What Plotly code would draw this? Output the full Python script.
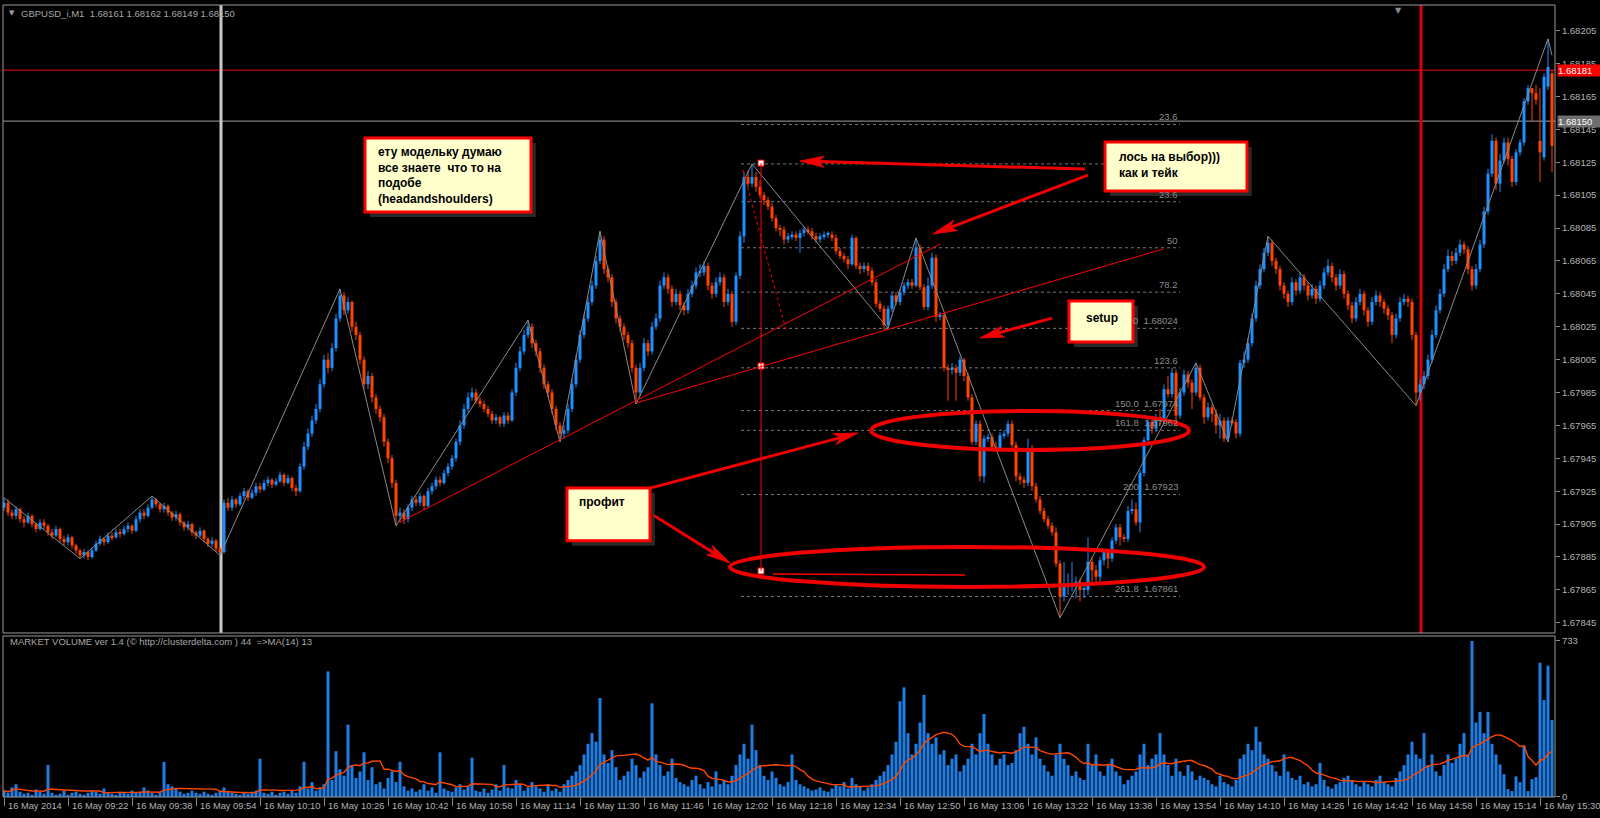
import math
import plotly.graph_objects as go
import pandas as pd

# ---------------- data (prices in points: price = 1.67 + p * 1e-5) ----------------
C_PTS = [918, 912, 910, 914, 908, 906, 910, 905, 902, 906,
 904, 900, 898, 902, 896, 894, 897, 892, 889, 886,
 888, 885, 889, 893, 896, 894, 898, 897, 900, 899,
 902, 904, 901, 908, 912, 910, 915, 920, 917, 914,
 916, 912, 909, 911, 906, 903, 905, 900, 898, 901,
 896, 893, 895, 890, 888, 918, 915, 920, 917, 922,
 925, 921, 924, 928, 926, 930, 932, 929, 931, 935,
 930, 933, 927, 925, 940, 952, 960, 968, 975, 990,
 1005, 1000, 1012, 1030, 1044, 1035, 1040, 1025, 1020, 1005,
 990, 995, 982, 975, 970, 955, 945, 930, 910, 912,
 908, 915, 920, 918, 922, 916, 925, 928, 932, 930,
 936, 940, 945, 955, 965, 975, 982, 985, 980, 978,
 975, 972, 968, 970, 966, 971, 968, 985, 1000, 1010,
 1020, 1025, 1015, 1010, 1000, 990, 985, 975, 965, 960,
 962, 975, 990, 1005, 1020, 1030, 1040, 1050, 1065, 1078,
 1060, 1055, 1040, 1030, 1025, 1020, 1015, 1000, 985, 1000,
 1015, 1010, 1025, 1030, 1050, 1055, 1048, 1040, 1045, 1038,
 1035, 1045, 1050, 1058, 1058, 1062, 1050, 1045, 1052, 1055,
 1040, 1045, 1028, 1056, 1080, 1116, 1112, 1116, 1110, 1105,
 1102, 1098, 1091, 1085, 1084, 1078, 1080, 1081, 1079, 1082,
 1084, 1083, 1080, 1078, 1080, 1081, 1081, 1079, 1071, 1068,
 1066, 1063, 1079, 1062, 1060, 1062, 1059, 1052, 1039, 1036,
 1026, 1036, 1044, 1040, 1046, 1050, 1052, 1050, 1073, 1049,
 1037, 1050, 1067, 1031, 1032, 1000, 999, 1000, 997, 1005,
 995, 982, 955, 966, 934, 957, 958, 952, 951, 959,
 960, 966, 953, 934, 932, 930, 951, 928, 920, 913,
 908, 904, 900, 881, 861, 867, 867, 867, 870, 865,
 865, 882, 877, 873, 883, 888, 884, 895, 903, 897,
 896, 913, 914, 906, 936, 956, 967, 963, 970, 968,
 987, 984, 997, 971, 985, 996, 991, 985, 1000, 982,
 970, 976, 972, 965, 968, 957, 968, 967, 960, 1003,
 1005, 1015, 1030, 1050, 1060, 1070, 1076, 1065, 1060, 1050,
 1045, 1040, 1052, 1047, 1055, 1050, 1044, 1048, 1042, 1050,
 1058, 1062, 1055, 1050, 1057, 1045, 1038, 1030, 1040, 1045,
 1035, 1028, 1040, 1044, 1040, 1036, 1032, 1020, 1030, 1040,
 1042, 1040, 1020, 985, 990, 995, 1005, 1020, 1035, 1045,
 1060, 1068, 1065, 1070, 1075, 1072, 1060, 1050, 1060, 1075,
 1095, 1118, 1138, 1112, 1126, 1137, 1127, 1113, 1131, 1137,
 1162, 1170, 1167, 1163, 1131, 1177, 1183, 1135]

O_PTS = [915, 918, 912, 910, 914, 908, 906, 910, 905, 902,
 906, 904, 900, 898, 902, 896, 894, 897, 892, 889,
 886, 888, 885, 889, 893, 896, 894, 898, 897, 900,
 899, 902, 904, 901, 908, 912, 910, 915, 920, 917,
 914, 916, 912, 909, 911, 906, 903, 905, 900, 898,
 901, 896, 893, 895, 890, 888, 918, 915, 920, 917,
 922, 925, 921, 924, 928, 926, 930, 932, 929, 931,
 935, 930, 933, 927, 925, 940, 952, 960, 968, 975,
 990, 1005, 1000, 1012, 1030, 1044, 1035, 1040, 1025, 1020,
 1005, 990, 995, 982, 975, 970, 955, 945, 930, 910,
 912, 908, 915, 920, 918, 922, 916, 925, 928, 932,
 930, 936, 940, 945, 955, 965, 975, 982, 985, 980,
 978, 975, 972, 968, 970, 966, 971, 968, 985, 1000,
 1010, 1020, 1025, 1015, 1010, 1000, 990, 985, 975, 965,
 960, 962, 975, 990, 1005, 1020, 1030, 1040, 1050, 1065,
 1078, 1060, 1055, 1040, 1030, 1025, 1020, 1015, 1000, 985,
 1000, 1015, 1010, 1025, 1030, 1050, 1055, 1048, 1040, 1045,
 1038, 1035, 1045, 1050, 1058, 1058, 1062, 1050, 1045, 1052,
 1055, 1040, 1045, 1028, 1056, 1080, 1116, 1112, 1116, 1110,
 1105, 1102, 1098, 1091, 1085, 1084, 1078, 1080, 1081, 1079,
 1082, 1084, 1083, 1080, 1078, 1080, 1081, 1081, 1079, 1071,
 1068, 1066, 1063, 1079, 1062, 1060, 1062, 1059, 1052, 1039,
 1036, 1026, 1036, 1044, 1040, 1046, 1050, 1052, 1050, 1073,
 1049, 1037, 1050, 1067, 1031, 1032, 1000, 999, 1000, 997,
 1005, 995, 982, 955, 966, 934, 957, 958, 952, 951,
 959, 960, 966, 953, 934, 932, 930, 951, 928, 920,
 913, 908, 904, 900, 881, 861, 867, 867, 867, 870,
 865, 865, 882, 877, 873, 883, 888, 884, 895, 903,
 897, 896, 913, 914, 906, 936, 956, 967, 963, 970,
 968, 987, 984, 997, 971, 985, 996, 991, 985, 1000,
 982, 970, 976, 972, 965, 968, 957, 968, 967, 960,
 1003, 1005, 1015, 1030, 1050, 1060, 1070, 1076, 1065, 1060,
 1050, 1045, 1040, 1052, 1047, 1055, 1050, 1044, 1048, 1042,
 1050, 1058, 1062, 1055, 1050, 1057, 1045, 1038, 1030, 1040,
 1045, 1035, 1028, 1040, 1044, 1040, 1036, 1032, 1020, 1030,
 1040, 1042, 1040, 1020, 985, 990, 995, 1005, 1020, 1035,
 1045, 1060, 1068, 1065, 1070, 1075, 1072, 1060, 1050, 1060,
 1075, 1095, 1118, 1138, 1112, 1126, 1137, 1127, 1113, 1131,
 1137, 1162, 1170, 1167, 1138, 1128, 1171, 1179]

H_PTS = [921, 920, 914, 916, 915, 910, 912, 911, 906, 908,
 908, 905, 902, 904, 903, 898, 899, 898, 893, 890,
 890, 889, 891, 895, 898, 897, 900, 900, 902, 902,
 904, 906, 905, 910, 914, 914, 917, 922, 921, 918,
 918, 917, 913, 913, 912, 907, 907, 906, 901, 903,
 902, 897, 897, 896, 891, 920, 921, 922, 921, 924,
 927, 926, 926, 930, 930, 932, 934, 933, 933, 937,
 936, 935, 934, 929, 942, 955, 963, 971, 978, 993,
 1008, 1009, 1015, 1033, 1048, 1046, 1043, 1041, 1028, 1022,
 1007, 998, 997, 984, 977, 972, 957, 947, 932, 915,
 914, 917, 922, 922, 924, 923, 927, 930, 934, 934,
 938, 942, 947, 957, 968, 978, 985, 988, 987, 982,
 980, 977, 974, 972, 971, 973, 973, 987, 1003, 1013,
 1023, 1029, 1027, 1017, 1012, 1002, 992, 987, 977, 967,
 965, 978, 993, 1008, 1023, 1033, 1043, 1053, 1068, 1083,
 1080, 1062, 1057, 1042, 1032, 1027, 1022, 1017, 1002, 1003,
 1018, 1017, 1028, 1033, 1053, 1058, 1057, 1050, 1048, 1047,
 1040, 1048, 1053, 1061, 1063, 1065, 1064, 1052, 1055, 1058,
 1057, 1048, 1047, 1058, 1083, 1119, 1120, 1124, 1119, 1114,
 1107, 1104, 1100, 1093, 1087, 1086, 1082, 1083, 1083, 1084,
 1086, 1086, 1085, 1082, 1082, 1083, 1083, 1083, 1081, 1073,
 1070, 1068, 1081, 1080, 1064, 1064, 1064, 1061, 1054, 1041,
 1038, 1038, 1046, 1046, 1048, 1052, 1054, 1054, 1079, 1075,
 1051, 1055, 1070, 1069, 1034, 1033, 1002, 1003, 1002, 1007,
 1006, 997, 984, 968, 968, 959, 960, 960, 955, 961,
 962, 968, 968, 955, 936, 934, 957, 953, 930, 922,
 915, 910, 906, 903, 883, 882, 875, 882, 873, 872,
 868, 897, 885, 880, 885, 890, 890, 897, 905, 905,
 899, 916, 920, 918, 938, 958, 970, 969, 972, 975,
 990, 995, 1000, 999, 988, 999, 998, 993, 1003, 1002,
 984, 979, 978, 975, 972, 970, 970, 970, 969, 1005,
 1010, 1018, 1033, 1053, 1063, 1073, 1080, 1078, 1067, 1062,
 1052, 1047, 1055, 1054, 1058, 1057, 1052, 1051, 1050, 1053,
 1061, 1066, 1064, 1057, 1060, 1059, 1047, 1040, 1043, 1048,
 1047, 1037, 1043, 1047, 1046, 1042, 1038, 1034, 1033, 1043,
 1045, 1044, 1042, 1022, 993, 998, 1008, 1023, 1038, 1048,
 1063, 1072, 1071, 1073, 1078, 1077, 1074, 1062, 1063, 1078,
 1098, 1121, 1142, 1140, 1130, 1140, 1140, 1129, 1133, 1139,
 1164, 1172, 1170, 1172, 1170, 1179, 1200, 1181]

L_PTS = [913, 910, 908, 908, 906, 903, 905, 903, 900, 901,
 902, 898, 896, 897, 894, 892, 892, 890, 887, 884,
 884, 883, 884, 888, 892, 892, 893, 895, 896, 897,
 898, 900, 899, 900, 906, 908, 909, 914, 915, 912,
 912, 910, 907, 907, 904, 901, 901, 898, 896, 897,
 894, 891, 891, 888, 886, 887, 913, 913, 915, 916,
 920, 919, 920, 922, 924, 925, 928, 927, 928, 930,
 928, 929, 925, 922, 924, 938, 950, 958, 966, 973,
 988, 997, 998, 1010, 1028, 1032, 1033, 1022, 1017, 1002,
 987, 987, 979, 972, 967, 952, 942, 927, 904, 906,
 905, 906, 913, 916, 916, 914, 915, 923, 926, 928,
 929, 934, 938, 943, 953, 963, 973, 980, 978, 976,
 973, 970, 966, 966, 964, 964, 966, 967, 983, 998,
 1008, 1018, 1012, 1007, 997, 987, 982, 972, 962, 955,
 957, 960, 973, 988, 1003, 1018, 1028, 1038, 1048, 1063,
 1057, 1052, 1037, 1027, 1022, 1017, 1012, 997, 978, 983,
 998, 1007, 1008, 1023, 1028, 1048, 1045, 1037, 1038, 1035,
 1032, 1033, 1043, 1048, 1055, 1056, 1047, 1042, 1043, 1050,
 1037, 1038, 1025, 1026, 1054, 1076, 1110, 1110, 1107, 1103,
 1099, 1096, 1089, 1083, 1080, 1075, 1076, 1078, 1077, 1070,
 1080, 1081, 1078, 1076, 1076, 1078, 1079, 1077, 1069, 1066,
 1064, 1060, 1062, 1060, 1057, 1058, 1056, 1050, 1037, 1034,
 1023, 1024, 1034, 1038, 1038, 1044, 1048, 1048, 1049, 1047,
 1035, 1035, 1048, 1028, 1029, 998, 980, 996, 980, 995,
 992, 980, 953, 953, 931, 930, 955, 950, 949, 949,
 957, 958, 951, 931, 929, 927, 928, 925, 918, 911,
 906, 902, 898, 879, 848, 858, 862, 864, 860, 858,
 860, 862, 870, 870, 870, 880, 878, 882, 893, 892,
 894, 894, 911, 904, 900, 934, 954, 960, 961, 965,
 966, 982, 982, 968, 969, 983, 988, 975, 983, 980,
 966, 968, 967, 960, 957, 955, 955, 965, 957, 958,
 1000, 1003, 1013, 1028, 1048, 1058, 1068, 1062, 1057, 1047,
 1042, 1037, 1038, 1044, 1045, 1047, 1041, 1042, 1039, 1040,
 1048, 1056, 1052, 1047, 1048, 1042, 1035, 1027, 1028, 1038,
 1032, 1025, 1026, 1038, 1037, 1033, 1029, 1015, 1018, 1028,
 1038, 1037, 1017, 977, 980, 987, 993, 1003, 1018, 1033,
 1043, 1058, 1062, 1063, 1068, 1069, 1057, 1047, 1048, 1058,
 1073, 1093, 1116, 1108, 1107, 1124, 1123, 1110, 1111, 1129,
 1135, 1160, 1150, 1160, 1113, 1126, 1169, 1119]

VOLUME = [30, 20, 45, 60, 25, 15, 20, 10, 35, 25,
 15, 150, 20, 10, 15, 30, 10, 20, 25, 15,
 10, 20, 30, 25, 15, 40, 20, 15, 10, 25,
 20, 15, 30, 20, 25, 45, 30, 20, 10, 25,
 165, 60, 50, 40, 25, 15, 20, 30, 20, 15,
 25, 15, 10, 20, 30, 45, 25, 20, 15, 10,
 20, 15, 25, 30, 180, 20, 15, 25, 10, 20,
 25, 15, 30, 20, 50, 165, 40, 70, 30, 45,
 60, 590, 80, 215, 130, 100, 340, 150, 90, 120,
 210, 80, 140, 60, 70, 40, 90, 120, 70, 165,
 50, 30, 40, 25, 35, 60, 30, 45, 20, 210,
 40, 30, 25, 45, 60, 35, 50, 185, 30, 25,
 40, 20, 35, 60, 30, 150, 45, 40, 80, 60,
 30, 45, 70, 50, 40, 25, 60, 30, 40, 25,
 60, 80, 100, 120, 150, 200, 250, 300, 260, 465,
 200, 160, 220, 140, 80, 100, 120, 180, 150, 90,
 120, 140, 440, 200, 150, 100, 120, 180, 90, 70,
 60, 50, 80, 100, 60, 40, 70, 50, 120, 60,
 80, 60, 100, 150, 200, 250, 180, 340, 220, 150,
 100, 80, 120, 90, 60, 50, 70, 200, 80, 60,
 50, 40, 30, 35, 45, 30, 25, 40, 60, 50,
 70, 40, 90, 60, 50, 30, 45, 60, 80, 100,
 120, 150, 200, 260, 450, 515, 300, 200, 250, 350,
 480, 300, 250, 280, 200, 220, 150, 180, 200, 120,
 150, 180, 250, 200, 300, 390, 250, 200, 150, 180,
 200, 150, 160, 220, 300, 330, 250, 200, 280, 180,
 150, 120, 100, 200, 250, 180, 150, 100, 120, 90,
 80, 250, 150, 200, 120, 100, 150, 180, 120, 100,
 60, 80, 100, 120, 200, 250, 150, 180, 200, 300,
 200, 150, 100, 180, 120, 100, 150, 120, 80, 100,
 90, 80, 60, 50, 100, 70, 60, 50, 80, 180,
 200, 250, 220, 330, 260, 200, 180, 150, 120, 100,
 200, 120, 90, 80, 100, 60, 70, 50, 60, 160,
 80, 50, 40, 60, 70, 90, 100, 80, 60, 50,
 70, 60, 50, 80, 100, 70, 60, 50, 90, 120,
 150, 200, 260, 200, 180, 300, 150, 200, 120, 100,
 150, 200, 160, 180, 250, 300, 200, 733, 350, 400,
 300, 400, 250, 200, 153, 107, 37, 28, 97, 70,
 241, 28, 84, 93, 631, 455, 617, 362]

# ZigZag indicator vertices (bar index, points)
ZZ_I = [0, 19, 37, 54, 84, 98, 131, 139, 149, 158, 187, 221, 228, 264, 298, 306, 316, 353, 386, 387]
ZZ_P = [921, 884, 922, 886, 1048, 904, 1029, 955, 1083, 978, 1124, 1024, 1079, 848, 1003, 955, 1080, 977, 1200, 1190]

TIME_TICK_IDX = [0, 16, 32, 48, 64, 80, 96, 112, 128, 144, 160, 176, 192, 208, 224, 240,
                 256, 272, 288, 304, 320, 336, 352, 368, 384]
TIME_LABELS = ["16 May 2014", "16 May 09:22", "16 May 09:38", "16 May 09:54", "16 May 10:10",
               "16 May 10:26", "16 May 10:42", "16 May 10:58", "16 May 11:14", "16 May 11:30",
               "16 May 11:46", "16 May 12:02", "16 May 12:18", "16 May 12:34", "16 May 12:50",
               "16 May 13:06", "16 May 13:22", "16 May 13:38", "16 May 13:54", "16 May 14:10",
               "16 May 14:26", "16 May 14:42", "16 May 14:58", "16 May 15:14", "16 May 15:30"]
PRICE_TICKS = [1.67845, 1.67865, 1.67885, 1.67905, 1.67925, 1.67945, 1.67965, 1.67985, 1.68005,
               1.68025, 1.68045, 1.68065, 1.68085, 1.68105, 1.68125, 1.68145, 1.68165, 1.68185, 1.68205]

FIB_LEVELS = [1.68148, 1.68124, 1.68101, 1.68073, 1.68046, 1.68024, 1.68000, 1.67974, 1.67962, 1.67923, 1.67861]
FIB_LABELS = ["23.6", "", "23.6", "50", "78.2", "0  1.68024", "123.6", "150.0  1.67974",
              "161.8  1.67962", "200  1.67923", "261.8  1.67861"]

ASK_LINE = 1.68181
BID_LINE = 1.68150

# ---------------- helpers ----------------
def to_price(pts):
    return [round(1.67 + v * 1e-5, 5) for v in pts]

X = list(range(len(C_PTS)))
OPEN, HIGH, LOW, CLOSE = to_price(O_PTS), to_price(H_PTS), to_price(L_PTS), to_price(C_PTS)
MA14 = pd.Series(VOLUME, dtype=float).rolling(14, min_periods=1).mean().tolist()

FONT = "Liberation Sans, Arial, sans-serif"
TXT = "#B4B4B4"
FRAME = "#9A9A9A"
RED = "#FF0000"
UP = "#1E90FF"
DN = "#FF4500"
X0, X1 = -0.25, 387.75
Y0, Y1 = 1.678388, 1.682206
MIN_BODY = 0.0000065   # about one screen pixel, so that doji bars stay visible

# screen geometry of the price panel (used only to shape the arrow heads)
PLOT_L, PLOT_W = 3, 1552
MAIN_T, MAIN_H = 5, 628


def d2p(x, y):
    return (PLOT_L + (x - X0) / (X1 - X0) * PLOT_W,
            MAIN_T + (Y1 - y) / (Y1 - Y0) * MAIN_H)


def p2d(px, py):
    return (X0 + (px - PLOT_L) / PLOT_W * (X1 - X0),
            Y1 - (py - MAIN_T) / MAIN_H * (Y1 - Y0))


fig = go.Figure()

# candles drawn as wicks (lines) + bodies (floating bars) so the body width can be set exactly
for colour, is_up in ((UP, True), (DN, False)):
    idx = [i for i in X if (CLOSE[i] >= OPEN[i]) == is_up]
    wx, wy = [], []
    for i in idx:
        wx += [i, i, None]
        wy += [LOW[i], HIGH[i], None]
    fig.add_trace(go.Scatter(x=wx, y=wy, mode="lines", line=dict(color=colour, width=1),
                             hoverinfo="skip", showlegend=False, xaxis="x", yaxis="y"))
    fig.add_trace(go.Bar(x=idx,
                         y=[max(abs(CLOSE[i] - OPEN[i]), MIN_BODY) for i in idx],
                         base=[min(OPEN[i], CLOSE[i]) for i in idx],
                         width=0.75, marker=dict(color=colour, line=dict(width=0)),
                         hoverinfo="skip", showlegend=False, xaxis="x", yaxis="y"))

fig.add_trace(go.Scatter(x=ZZ_I, y=to_price(ZZ_P), mode="lines",
                         line=dict(color="#8A8A8A", width=1), hoverinfo="skip",
                         showlegend=False, xaxis="x", yaxis="y"))

fig.add_trace(go.Bar(x=X, y=VOLUME, width=0.75, marker=dict(color="#1E7EE6", line=dict(width=0)),
                     showlegend=False, hoverinfo="skip", xaxis="x", yaxis="y2"))
fig.add_trace(go.Scatter(x=X, y=MA14, mode="lines", line=dict(color="#FF4500", width=1.4),
                         showlegend=False, hoverinfo="skip", xaxis="x", yaxis="y2"))

# fib anchor markers
fig.add_trace(go.Scatter(x=[189.25, 189.25, 189.25], y=[1.681245, 1.680011, 1.678765], mode="markers",
                         marker=dict(symbol="square", size=6, color="white", line=dict(color=RED, width=1)),
                         showlegend=False, hoverinfo="skip", xaxis="x", yaxis="y"))

shapes = []
annotations = []

# panel frames
shapes.append(dict(type="rect", xref="paper", yref="paper", x0=0, x1=1, y0=0.2071, y1=1,
                   line=dict(color=FRAME, width=1), layer="above"))
shapes.append(dict(type="rect", xref="paper", yref="paper", x0=0, x1=1, y0=0, y1=0.2033,
                   line=dict(color=FRAME, width=1), layer="above"))

# fib dashed levels
for lv, lab in zip(FIB_LEVELS, FIB_LABELS):
    shapes.append(dict(type="line", xref="x", yref="y", x0=184.25, x1=294, y0=lv, y1=lv,
                       line=dict(color="#7A7A7A", width=1, dash="3px,3px"), layer="below"))
    if lab:
        annotations.append(dict(x=294, y=lv, xref="x", yref="y", xanchor="right", yanchor="bottom",
                                text=lab, showarrow=False, font=dict(family=FONT, size=9.5, color="#8C8C8C")))

# bid / ask lines, vertical lines
shapes.append(dict(type="line", xref="x", yref="y", x0=X0, x1=X1, y0=ASK_LINE, y1=ASK_LINE,
                   line=dict(color=RED, width=1), layer="below"))
shapes.append(dict(type="line", xref="x", yref="y", x0=X0, x1=X1, y0=BID_LINE, y1=BID_LINE,
                   line=dict(color="#A0A0A0", width=1), layer="below"))
shapes.append(dict(type="line", xref="x", yref="y", x0=54.25, x1=54.25, y0=Y0, y1=Y1,
                   line=dict(color="#C8C8C8", width=3), layer="below"))
shapes.append(dict(type="line", xref="x", yref="y", x0=354.25, x1=354.25, y0=Y0, y1=Y1,
                   line=dict(color="#E00000", width=3), layer="below"))

# trend lines & fib vertical
shapes.append(dict(type="line", xref="x", yref="y", x0=99, y0=1.679062, x1=234, y1=1.680752,
                   line=dict(color=RED, width=1)))
shapes.append(dict(type="line", xref="x", yref="y", x0=158, y0=1.679786, x1=289.75, y1=1.680722,
                   line=dict(color=RED, width=1)))
shapes.append(dict(type="line", xref="x", yref="y", x0=184.7, y0=1.681203, x1=195.5, y1=1.680230,
                   line=dict(color=RED, width=1, dash="dot")))
shapes.append(dict(type="line", xref="x", yref="y", x0=189.25, y0=1.681245, x1=189.25, y1=1.678765,
                   line=dict(color=RED, width=1)))
shapes.append(dict(type="line", xref="x", yref="y", x0=192.25, y0=1.678747, x1=240.25, y1=1.678741,
                   line=dict(color=RED, width=1.5)))

# ellipses
shapes.append(dict(type="circle", xref="x", yref="y", x0=216.75, x1=296.25, y0=1.679501, y1=1.679738,
                   line=dict(color="#F00000", width=4)))
shapes.append(dict(type="circle", xref="x", yref="y", x0=181.5, x1=300, y0=1.678668, y1=1.678911,
                   line=dict(color="#F00000", width=4)))

# arrows (head x,y ; tail x,y) drawn as a shaft plus a long narrow notched head
ARROWS = [
    (199, 1.681257, 270.25, 1.681209),
    (232.25, 1.680814, 271, 1.681172),
    (244, 1.680181, 262, 1.680302),
    (213.5, 1.679604, 161.75, 1.679270),
    (181.5, 1.678814, 162.25, 1.679105),
]
HEAD_LEN, HEAD_HALF, NOTCH = 24, 5.5, 18
for hx, hy, tx, ty in ARROWS:
    hpx, hpy = d2p(hx, hy)
    tpx, tpy = d2p(tx, ty)
    L = math.hypot(hpx - tpx, hpy - tpy)
    ux, uy = (hpx - tpx) / L, (hpy - tpy) / L
    nx, ny = -uy, ux
    bx, by = hpx - ux * HEAD_LEN, hpy - uy * HEAD_LEN
    mx, my = hpx - ux * NOTCH, hpy - uy * NOTCH
    pts = [(hpx, hpy), (bx + nx * HEAD_HALF, by + ny * HEAD_HALF), (mx, my),
           (bx - nx * HEAD_HALF, by - ny * HEAD_HALF)]
    dpts = [p2d(a, b) for a, b in pts]
    path = "M " + " L ".join(f"{a:.4f},{b:.7f}" for a, b in dpts) + " Z"
    sx, sy = p2d(mx, my)
    shapes.append(dict(type="line", xref="x", yref="y", x0=tx, y0=ty, x1=sx, y1=sy,
                       line=dict(color="#F00000", width=3)))
    shapes.append(dict(type="path", xref="x", yref="y", path=path, fillcolor="#F00000",
                       line=dict(color="#F00000", width=1)))

# text boxes (shadow + box) and their texts
BOXES = [
    (90.25, 131.75, 1.681397, 1.680947),
    (275.25, 310.75, 1.681373, 1.681075),
    (266.25, 282.25, 1.680406, 1.680157),
    (140.75, 161.5, 1.679270, 1.678948),
]
for bx0, bx1, by1, by0 in BOXES:
    shapes.append(dict(type="rect", xref="x", yref="y", x0=bx0 + 1.2, x1=bx1 + 1.2,
                       y0=by0 - 0.00003, y1=by1 - 0.00003, fillcolor="#3A3A3A", opacity=0.7,
                       line=dict(width=0)))
    shapes.append(dict(type="rect", xref="x", yref="y", x0=bx0, x1=bx1, y0=by0, y1=by1,
                       fillcolor="#FFFFCC", line=dict(color=RED, width=3)))

BOX_TEXTS = [
    (93, 1.681169, "ету модельку думаю<br>все знаете  что то на<br>подобе<br>(headandshoulders)"),
    (278.25, 1.681235, "лось на выбор)))<br>как и тейк"),
    (270, 1.680303, "setup"),
    (143.25, 1.679184, "профит"),
]
for tx, ty, t in BOX_TEXTS:
    annotations.append(dict(x=tx, y=ty, xref="x", yref="y", xanchor="left", yanchor="middle",
                            align="left", showarrow=False, text="<b>" + t + "</b>",
                            font=dict(family=FONT, size=12, color="black")))

# time labels
for idx, lab in zip(TIME_TICK_IDX, TIME_LABELS):
    annotations.append(dict(x=idx, y=0, xref="x", yref="paper", xanchor="left", yanchor="middle",
                            xshift=2, yshift=-9, text=lab, showarrow=False,
                            font=dict(family=FONT, size=9.3, color=TXT)))

# headers
annotations.append(dict(x=0, y=1, xref="paper", yref="paper", xanchor="left", yanchor="middle",
                        xshift=4, yshift=-8, text="▼", showarrow=False,
                        font=dict(family="DejaVu Sans", size=7, color="#A0A0A0")))
annotations.append(dict(x=0, y=1, xref="paper", yref="paper", xanchor="left", yanchor="middle",
                        xshift=16, yshift=-8, text="GBPUSD_i,M1  1.68161 1.68162 1.68149 1.68150",
                        showarrow=False, font=dict(family=FONT, size=9.5, color="#A8A8A8")))
annotations.append(dict(x=0, y=0.2033, xref="paper", yref="paper", xanchor="left", yanchor="middle",
                        xshift=5, yshift=-6,
                        text="MARKET VOLUME ver 1.4 (© http://clusterdelta.com ) 44  =>MA(14) 13",
                        showarrow=False, font=dict(family=FONT, size=9.5, color="#A8A8A8")))
annotations.append(dict(x=348.5, y=1, xref="x", yref="paper", xanchor="center", yanchor="top",
                        yshift=1, text="▼", showarrow=False,
                        font=dict(family="DejaVu Sans", size=8, color="#8A8A8A")))

# price boxes on axis
annotations.append(dict(x=1, y=ASK_LINE, xref="paper", yref="y", xanchor="left", yanchor="middle",
                        xshift=2, text="1.68181", showarrow=False, bgcolor="#FF0000", borderpad=0,
                        width=42, align="left", font=dict(family=FONT, size=9.5, color="white")))
annotations.append(dict(x=1, y=BID_LINE, xref="paper", yref="y", xanchor="left", yanchor="middle",
                        xshift=2, text="1.68150", showarrow=False, bgcolor="#6E6E6E", borderpad=0,
                        width=42, align="left", font=dict(family=FONT, size=9.5, color="white")))

fig.update_layout(
    width=1600, height=818,
    margin=dict(l=3, r=45, t=5, b=21),
    paper_bgcolor="black", plot_bgcolor="black",
    showlegend=False, hovermode=False, barmode="overlay",
    xaxis=dict(range=[X0, X1], anchor="y2", showgrid=False, zeroline=False, showline=False,
               showticklabels=False, ticks="outside", ticklen=8, tickcolor="#8A8A8A",
               tickvals=TIME_TICK_IDX, fixedrange=True),
    yaxis=dict(domain=[0.2071, 1], range=[Y0, Y1], side="right", anchor="x", showgrid=False,
               zeroline=False, showline=False, tickvals=PRICE_TICKS, tickformat=".5f",
               ticks="outside", ticklen=4, tickcolor="#8A8A8A",
               tickfont=dict(family=FONT, size=9.5, color=TXT), fixedrange=True),
    yaxis2=dict(domain=[0, 0.2033], range=[0, 756.5], side="right", anchor="x", showgrid=False,
                zeroline=False, showline=False, tickvals=[0, 733], ticktext=["0", "733"],
                ticks="outside", ticklen=4, tickcolor="#8A8A8A",
                tickfont=dict(family=FONT, size=9.5, color=TXT), fixedrange=True),
    shapes=shapes, annotations=annotations,
)

fig.write_html("out.html", config={"displayModeBar": False})
